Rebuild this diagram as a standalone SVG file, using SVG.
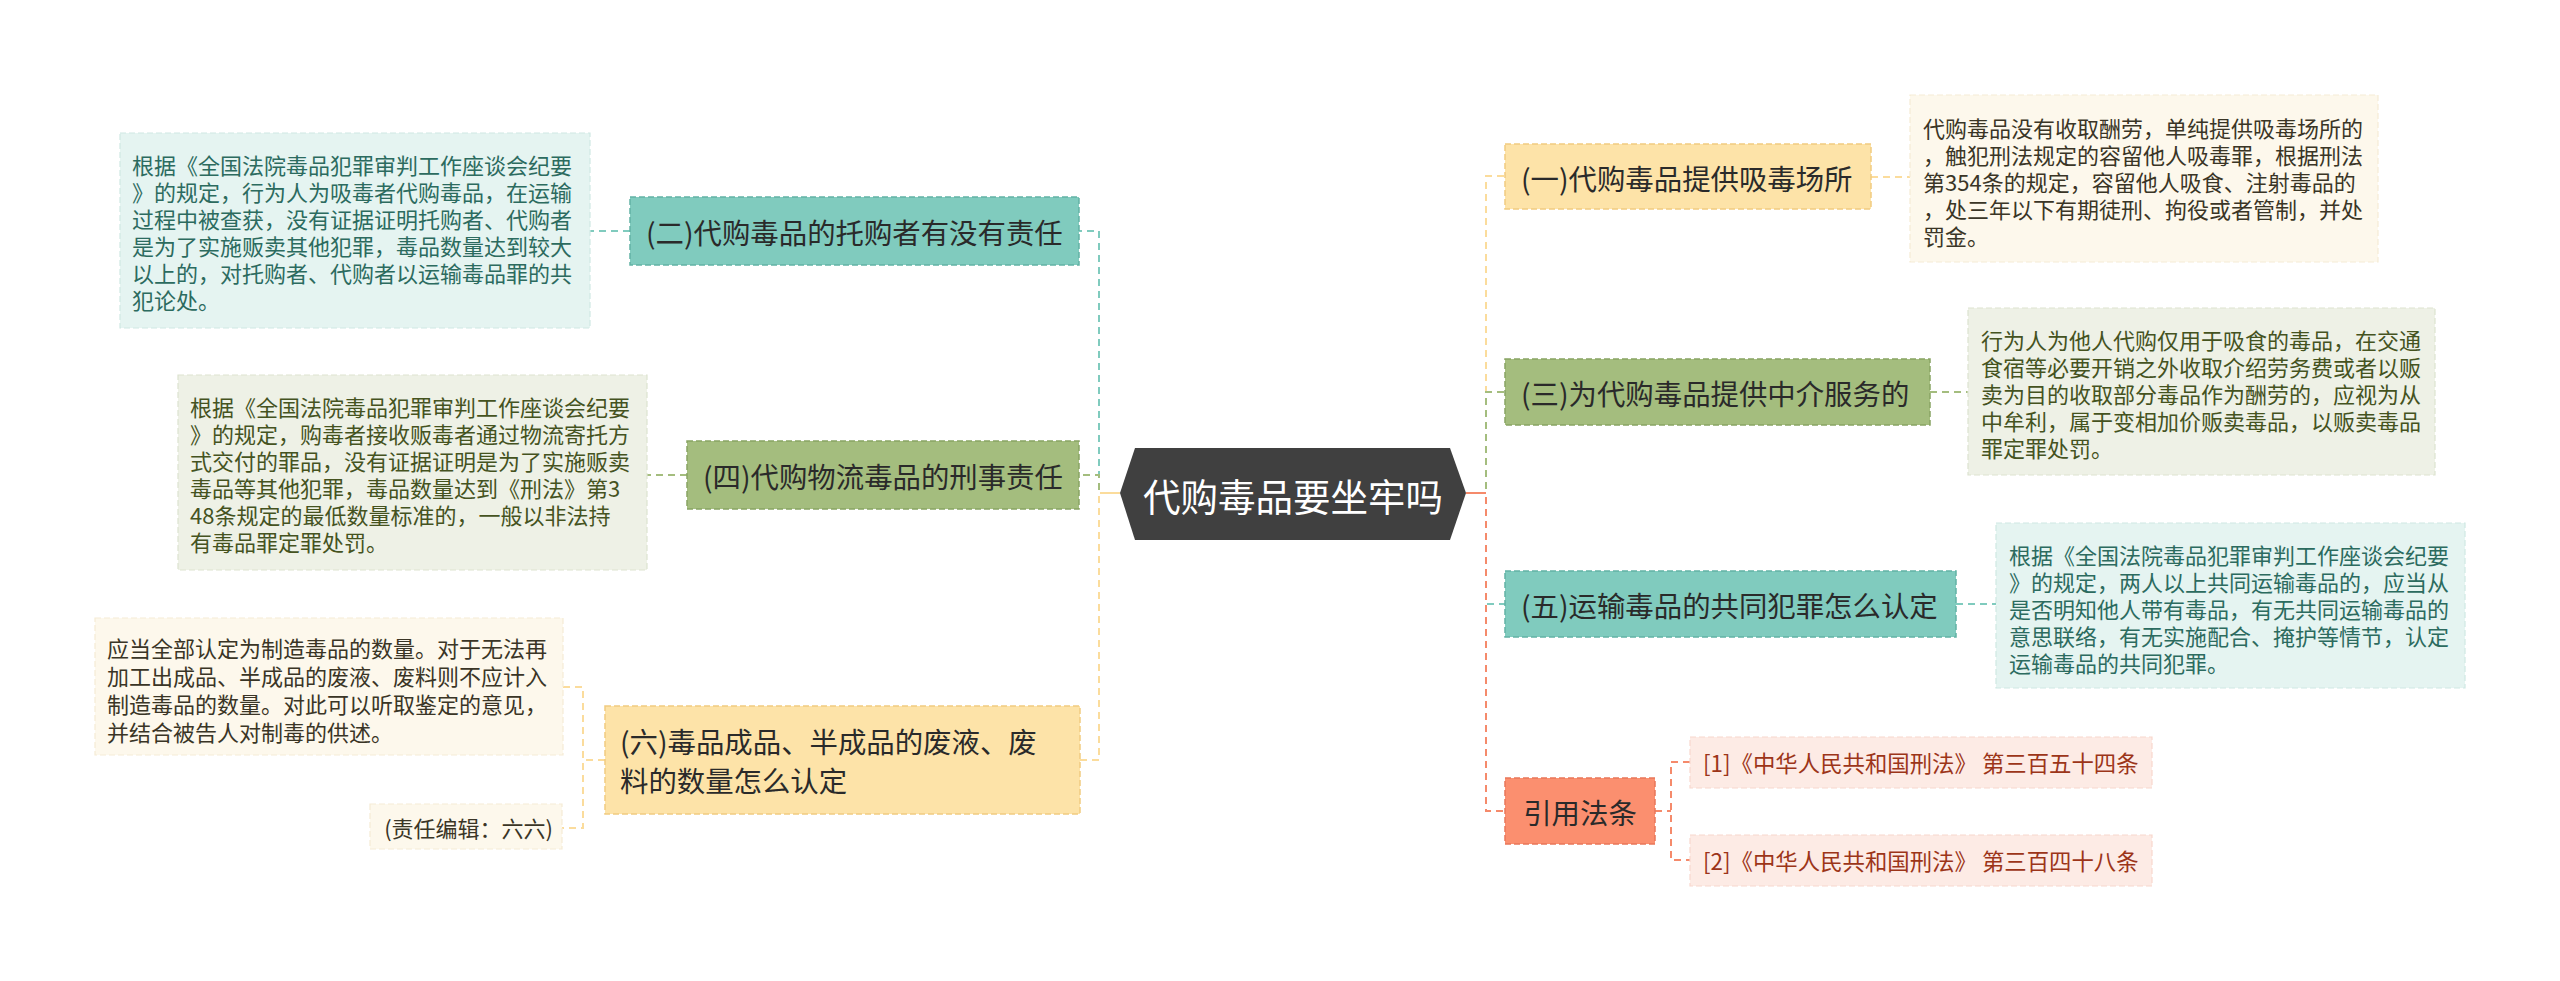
<svg xmlns="http://www.w3.org/2000/svg" width="2560" height="981" viewBox="0 0 2560 981">
<style>
text{font-family:"Noto Sans CJK SC","Noto Sans",sans-serif;dominant-baseline:central}
.topic{font-size:28.4px;fill:#2a2a2a}
.leaf{font-size:22px}
.law{font-size:22.4px}
.c{fill:none;stroke-width:2;stroke-dasharray:7 5}
.teal{fill:#80cbbe;stroke:#62b3a5;stroke-width:1.5;stroke-dasharray:6 3}
.green{fill:#a4bd7e;stroke:#88a463;stroke-width:1.5;stroke-dasharray:6 3}
.yellow{fill:#fde3a8;stroke:#f1cb80;stroke-width:1.5;stroke-dasharray:6 3}
.salmon{fill:#fb8f6f;stroke:#e9775a;stroke-width:1.5;stroke-dasharray:6 3}
.lteal{fill:#e5f4f1;stroke:#cfe8e3;stroke-width:1.2;stroke-dasharray:6 3}
.lgreen{fill:#eef1e6;stroke:#dde3d0;stroke-width:1.2;stroke-dasharray:6 3}
.lyellow{fill:#fdf8ec;stroke:#f5ecd5;stroke-width:1.2;stroke-dasharray:6 3}
.lsalmon{fill:#fdebe5;stroke:#f8d8cd;stroke-width:1.2;stroke-dasharray:6 3}
.tteal{fill:#2c6b5f}
.tgreen{fill:#45531f}
.tyellow{fill:#3a3526}
.tsalmon{fill:#9c3519}
</style>
<rect width="2560" height="981" fill="#ffffff"/>
<g id="connectors">
  <path class="c" stroke="#80cbbe" d="M1120,493 H1099 V231 H1079"/>
  <path class="c" stroke="#a4bd7e" d="M1120,493 H1099 V475 H1079"/>
  <path class="c" stroke="#fbdc9c" d="M1120,493 H1099 V760 H1080"/>
  <path d="M1120,493 H1100" stroke="#fbdc9c" stroke-width="2"/>
  <path class="c" stroke="#80cbbe" d="M630,231 H590"/>
  <path class="c" stroke="#a4bd7e" d="M687,475 H647"/>
  <path class="c" stroke="#fbdc9c" d="M605,760 H583 M563,687 H583 V828 H562"/>
  <path class="c" stroke="#fbdc9c" d="M1466,493 H1486 V176 H1505"/>
  <path class="c" stroke="#80cbbe" d="M1466,493 H1486 V604 H1505"/>
  <path class="c" stroke="#a4bd7e" d="M1466,493 H1486 V392 H1505"/>
  <path class="c" stroke="#f58a6b" d="M1466,493 H1486 V811 H1505"/>
  <path d="M1466,493 H1486" stroke="#f58a6b" stroke-width="2"/>
  <path class="c" stroke="#fbdc9c" d="M1871,177 H1910"/>
  <path class="c" stroke="#a4bd7e" d="M1930,392 H1968"/>
  <path class="c" stroke="#80cbbe" d="M1956,604 H1996"/>
  <path class="c" stroke="#f58a6b" d="M1655,811 H1671 M1690,762 H1671 V860 H1690"/>
</g>
<g id="center">
  <polygon points="1120,493 1135,448 1450,448 1466,493 1450,540 1135,540" fill="#404040"/>
  <text x="1293" y="494" font-size="37.5" fill="#ffffff" text-anchor="middle">代购毒品要坐牢吗</text>
</g>
<g id="n2">
  <rect class="teal" x="630" y="197" width="449" height="68"/>
  <text class="topic" x="646" y="231">(二)代购毒品的托购者有没有责任</text>
</g>
<g id="n2-leaf">
  <rect class="lteal" x="120" y="133" width="470" height="195"/>
  <text class="leaf tteal"><tspan x="132" y="164">根据《全国法院毒品犯罪审判工作座谈会纪要</tspan><tspan x="132" y="191">》的规定，行为人为吸毒者代购毒品，在运输</tspan><tspan x="132" y="218">过程中被查获，没有证据证明托购者、代购者</tspan><tspan x="132" y="245">是为了实施贩卖其他犯罪，毒品数量达到较大</tspan><tspan x="132" y="272">以上的，对托购者、代购者以运输毒品罪的共</tspan><tspan x="132" y="299">犯论处。</tspan></text>
</g>
<g id="n4">
  <rect class="green" x="687" y="441" width="392" height="68"/>
  <text class="topic" x="703" y="475">(四)代购物流毒品的刑事责任</text>
</g>
<g id="n4-leaf">
  <rect class="lgreen" x="178" y="375" width="469" height="195"/>
  <text class="leaf tgreen"><tspan x="190" y="406">根据《全国法院毒品犯罪审判工作座谈会纪要</tspan><tspan x="190" y="433">》的规定，购毒者接收贩毒者通过物流寄托方</tspan><tspan x="190" y="460">式交付的罪品，没有证据证明是为了实施贩卖</tspan><tspan x="190" y="487">毒品等其他犯罪，毒品数量达到《刑法》第3</tspan><tspan x="190" y="514">48条规定的最低数量标准的，一般以非法持</tspan><tspan x="190" y="541">有毒品罪定罪处罚。</tspan></text>
</g>
<g id="n6">
  <rect class="yellow" x="605" y="706" width="475" height="108"/>
  <text class="topic"><tspan x="620" y="740">(六)毒品成品、半成品的废液、废</tspan><tspan x="620" y="779">料的数量怎么认定</tspan></text>
</g>
<g id="n6-leaf1">
  <rect class="lyellow" x="95" y="618" width="468" height="137"/>
  <text class="leaf tyellow"><tspan x="107" y="647">应当全部认定为制造毒品的数量。对于无法再</tspan><tspan x="107" y="675">加工出成品、半成品的废液、废料则不应计入</tspan><tspan x="107" y="703">制造毒品的数量。对此可以听取鉴定的意见，</tspan><tspan x="107" y="731">并结合被告人对制毒的供述。</tspan></text>
</g>
<g id="n6-leaf2">
  <rect class="lyellow" x="370" y="804" width="192" height="45"/>
  <text class="leaf tyellow" x="553" y="827" text-anchor="end">(责任编辑：六六)</text>
</g>
<g id="n1">
  <rect class="yellow" x="1505" y="144" width="366" height="65"/>
  <text class="topic" x="1521" y="177">(一)代购毒品提供吸毒场所</text>
</g>
<g id="n1-leaf">
  <rect class="lyellow" x="1910" y="95" width="468" height="167"/>
  <text class="leaf tyellow"><tspan x="1923" y="127">代购毒品没有收取酬劳，单纯提供吸毒场所的</tspan><tspan x="1923" y="154">，触犯刑法规定的容留他人吸毒罪，根据刑法</tspan><tspan x="1923" y="181">第354条的规定，容留他人吸食、注射毒品的</tspan><tspan x="1923" y="208">，处三年以下有期徒刑、拘役或者管制，并处</tspan><tspan x="1923" y="235">罚金。</tspan></text>
</g>
<g id="n3">
  <rect class="green" x="1505" y="359" width="425" height="66"/>
  <text class="topic" x="1521" y="392">(三)为代购毒品提供中介服务的</text>
</g>
<g id="n3-leaf">
  <rect class="lgreen" x="1968" y="308" width="467" height="167"/>
  <text class="leaf tgreen"><tspan x="1981" y="339">行为人为他人代购仅用于吸食的毒品，在交通</tspan><tspan x="1981" y="366">食宿等必要开销之外收取介绍劳务费或者以贩</tspan><tspan x="1981" y="393">卖为目的收取部分毒品作为酬劳的，应视为从</tspan><tspan x="1981" y="420">中牟利，属于变相加价贩卖毒品，以贩卖毒品</tspan><tspan x="1981" y="447">罪定罪处罚。</tspan></text>
</g>
<g id="n5">
  <rect class="teal" x="1505" y="571" width="451" height="66"/>
  <text class="topic" x="1521" y="604">(五)运输毒品的共同犯罪怎么认定</text>
</g>
<g id="n5-leaf">
  <rect class="lteal" x="1996" y="523" width="469" height="165"/>
  <text class="leaf tteal"><tspan x="2009" y="554">根据《全国法院毒品犯罪审判工作座谈会纪要</tspan><tspan x="2009" y="581">》的规定，两人以上共同运输毒品的，应当从</tspan><tspan x="2009" y="608">是否明知他人带有毒品，有无共同运输毒品的</tspan><tspan x="2009" y="635">意思联络，有无实施配合、掩护等情节，认定</tspan><tspan x="2009" y="662">运输毒品的共同犯罪。</tspan></text>
</g>
<g id="n-law">
  <rect class="salmon" x="1505" y="778" width="150" height="66"/>
  <text class="topic" x="1580" y="811" text-anchor="middle">引用法条</text>
</g>
<g id="law1">
  <rect class="lsalmon" x="1690" y="737" width="462" height="51"/>
  <text class="law tsalmon" x="1703" y="762">[1]《中华人民共和国刑法》 第三百五十四条</text>
</g>
<g id="law2">
  <rect class="lsalmon" x="1690" y="835" width="462" height="51"/>
  <text class="law tsalmon" x="1703" y="860">[2]《中华人民共和国刑法》 第三百四十八条</text>
</g>
</svg>
